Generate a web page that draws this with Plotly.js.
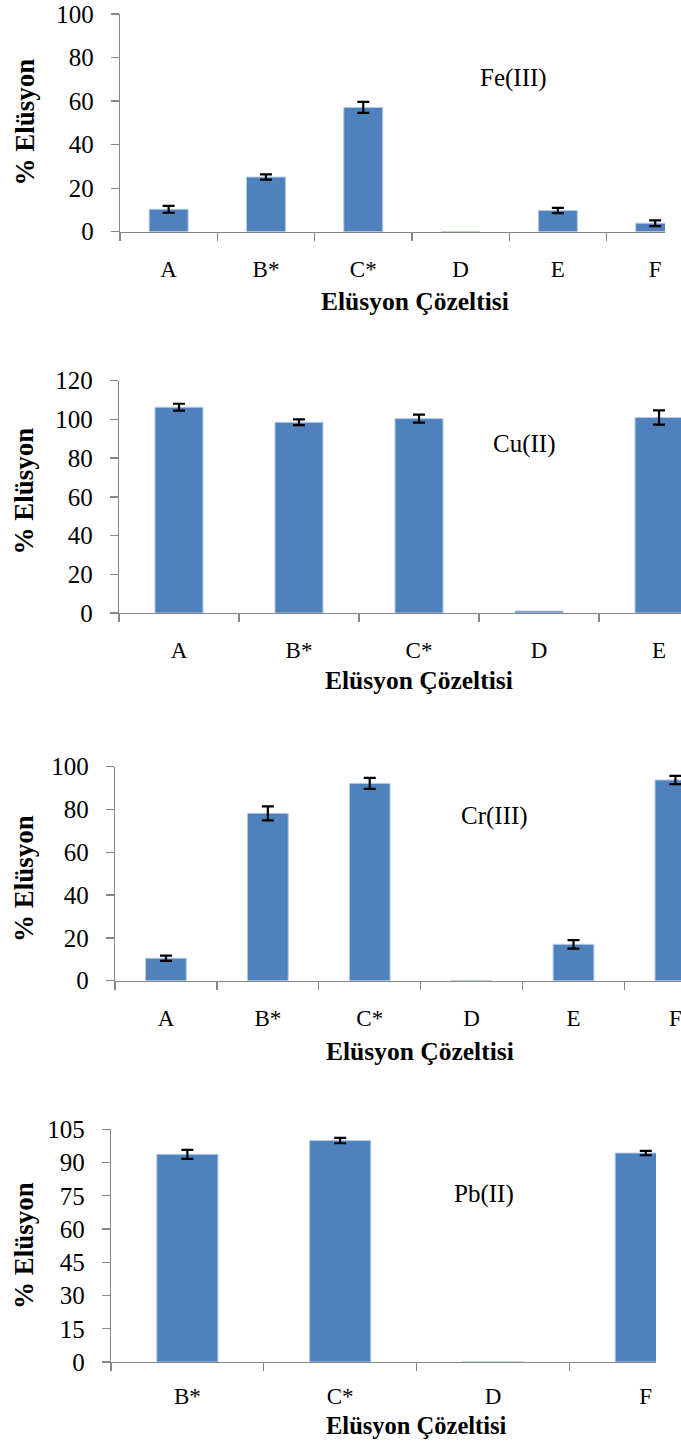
<!DOCTYPE html>
<html>
<head>
<meta charset="utf-8">
<script src="https://cdn.plot.ly/plotly-3.0.1.min.js"></script>
<style>
html,body{margin:0;padding:0;background:#fff;}
#chart{width:681px;height:1441px;}
</style>
</head>
<body>
<div id="chart"></div>
<script>
// ---- Data ----
const feCategories = ['A', 'B*', 'C*', 'D', 'E', 'F'];
const feValues = [10.3, 25.1, 57.1, 0, 9.7, 3.9];
const feErrors = [1.6, 1.2, 2.5, 0, 1.2, 1.3];

const cuCategories = ['A', 'B*', 'C*', 'D', 'E'];
const cuValues = [106.3, 98.5, 100.4, 1.0, 101.0];
const cuErrors = [1.8, 1.5, 2.1, 0, 3.7];

const crCategories = ['A', 'B*', 'C*', 'D', 'E', 'F'];
const crValues = [10.5, 78.2, 92.2, 0, 17.0, 93.8];
const crErrors = [1.2, 3.3, 2.6, 0, 2.0, 1.9];

const pbCategories = ['B*', 'C*', 'D', 'F'];
const pbValues = [93.7, 99.9, 0, 94.3];
const pbErrors = [2.0, 1.2, 0, 1.0];

const panelLabels = ['Fe(III)', 'Cu(II)', 'Cr(III)', 'Pb(II)'];
const xTitle = 'Elüsyon Çözeltisi';
const yTitle = '% Elüsyon';

// ---- Layout helpers ----
const W = 681, H = 1441;
const px = x => x / W;
const py = y => 1 - y / H;
const SERIF = 'Liberation Serif, Times New Roman, serif';
const AXIS_COLOR = '#868686';
const BAR_COLOR = '#4f81bd';

function barTrace(cats, vals, errs, xa, ya) {
  return {
    type: 'bar',
    x: cats,
    y: vals,
    xaxis: xa,
    yaxis: ya,
    marker: {color: BAR_COLOR, line: {color: '#b4c9e4', width: 1}},
    // zero-height bars carry no error bar in the reference
    error_y: {type: 'data', array: errs.map((e, k) => (vals[k] > 0 && e > 0) ? e : NaN),
              visible: true, color: '#000', thickness: 2.2, width: 6},
    hoverinfo: 'skip',
    showlegend: false
  };
}

const panels = [
  {cats: feCategories, vals: feValues, errs: feErrors, xr: [-0.5, 5.101], yr: [0, 100], dt: 20,
   xd: [120, 665], yd: [14, 231.7], lab: [513, 78], xt: [415, 301], yt: [24, 122.5], so: 16, tf: 25.5},
  {cats: cuCategories, vals: cuValues, errs: cuErrors, xr: [-0.5, 4.183], yr: [0, 120], dt: 20,
   xd: [119, 681], yd: [380.7, 613], lab: [524, 444], xt: [418.5, 680], yt: [24, 491.5], so: 16, tf: 25.5},
  {cats: crCategories, vals: crValues, errs: crErrors, xr: [-0.5, 5.055], yr: [0, 100], dt: 20,
   xd: [115, 681], yd: [766.7, 980.7], lab: [494.5, 816], xt: [419.7, 1051], yt: [24, 879], so: 16, tf: 25.5},
  {cats: pbCategories, vals: pbValues, errs: pbErrors, xr: [-0.5, 3.067], yr: [0, 105], dt: 15,
   xd: [111, 656], yd: [1129.3, 1362], lab: [484, 1194], xt: [416.5, 1425], yt: [24, 1246], so: 13, tf: 24.5}
];

const data = [];
const layout = {
  width: W, height: H,
  margin: {l: 0, r: 0, t: 0, b: 0, pad: 0},
  paper_bgcolor: '#fff', plot_bgcolor: '#fff',
  bargap: 0.6,
  showlegend: false,
  hovermode: false,
  font: {family: SERIF, color: '#000', size: 24},
  annotations: []
};

panels.forEach((p, i) => {
  const n = i === 0 ? '' : String(i + 1);
  const xa = 'x' + n, ya = 'y' + n;
  data.push(barTrace(p.cats, p.vals, p.errs, xa, ya));
  layout['xaxis' + n] = {
    domain: [px(p.xd[0]), px(p.xd[1])],
    anchor: ya,
    type: 'category',
    range: p.xr,
    showline: true, linecolor: AXIS_COLOR, linewidth: 1.3,
    ticks: 'outside', tickson: 'boundaries', ticklen: 8, tickcolor: AXIS_COLOR, tickwidth: 1.3,
    showgrid: false, zeroline: false,
    tickfont: {family: SERIF, size: 23, color: '#000'},
    ticklabelstandoff: p.so,
    fixedrange: true
  };
  layout['yaxis' + n] = {
    domain: [py(p.yd[1]), py(p.yd[0])],
    anchor: xa,
    range: p.yr,
    dtick: p.dt, tick0: 0,
    showline: true, linecolor: AXIS_COLOR, linewidth: 1.3,
    ticks: 'outside', ticklen: 8, tickcolor: AXIS_COLOR, tickwidth: 1.3,
    showgrid: false, zeroline: false,
    tickfont: {family: SERIF, size: 25, color: '#000'},
    ticklabelstandoff: 12,
    fixedrange: true
  };
  layout.annotations.push({
    text: panelLabels[i], xref: 'paper', yref: 'paper',
    x: px(p.lab[0]), y: py(p.lab[1]), xanchor: 'center', yanchor: 'middle',
    showarrow: false, font: {family: SERIF, size: 25, color: '#000'}
  });
  layout.annotations.push({
    text: '<b>' + xTitle + '</b>', xref: 'paper', yref: 'paper',
    x: px(p.xt[0]), y: py(p.xt[1]), xanchor: 'center', yanchor: 'middle',
    showarrow: false, font: {family: SERIF, size: p.tf, color: '#000'}
  });
  layout.annotations.push({
    text: '<b>' + yTitle + '</b>', xref: 'paper', yref: 'paper',
    x: px(p.yt[0]), y: py(p.yt[1]), xanchor: 'center', yanchor: 'middle',
    textangle: -90,
    showarrow: false, font: {family: SERIF, size: 27, color: '#000'}
  });
});

Plotly.newPlot('chart', data, layout, {displayModeBar: false, staticPlot: true});
</script>
</body>
</html>
